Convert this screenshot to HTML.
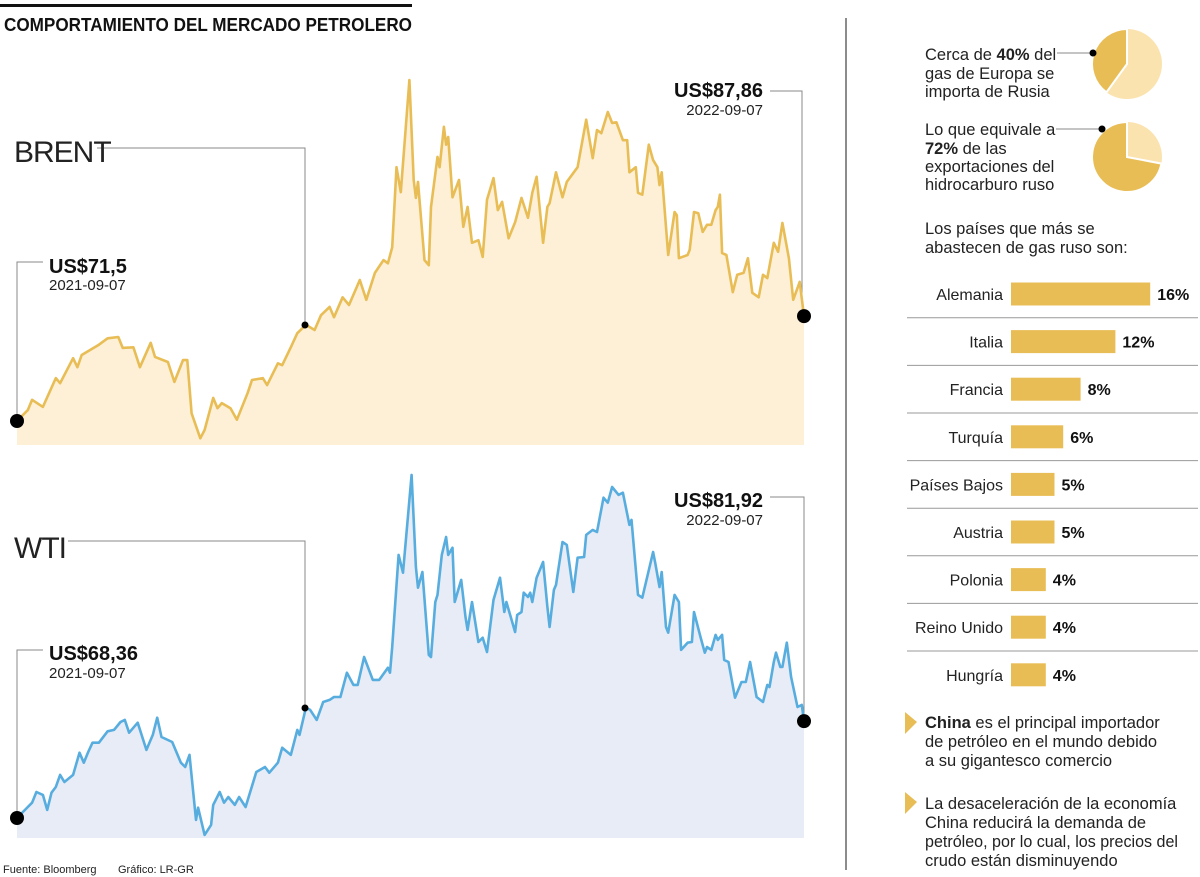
<!DOCTYPE html>
<html><head><meta charset="utf-8"><style>
html,body{margin:0;padding:0;background:#fff;}
svg{display:block;font-family:"Liberation Sans",sans-serif;}
</style></head><body>
<svg id="root" width="1200" height="877" viewBox="0 0 1200 877" xmlns="http://www.w3.org/2000/svg">
<rect x="0" y="4" width="412" height="3" fill="#111"/>
<text x="4" y="31" font-size="18" font-weight="bold" textLength="408" lengthAdjust="spacingAndGlyphs" fill="#111">COMPORTAMIENTO DEL MERCADO PETROLERO</text>
<path d="M97 148 H305 V325" fill="none" stroke="#888" stroke-width="1"/>
<path d="M68 541 H305 V708" fill="none" stroke="#888" stroke-width="1"/>
<path d="M17 414 V262 H43" fill="none" stroke="#888"/>
<path d="M770 91 H802 V309" fill="none" stroke="#888"/>
<path d="M17 811 V650 H43" fill="none" stroke="#888"/>
<path d="M770 497 H804 V714" fill="none" stroke="#888"/>
<g id="brent"></g>
<g id="wti"></g>
<text x="14" y="162" font-size="30" fill="#222" style="letter-spacing:-1px">BRENT</text>
<circle cx="305" cy="325" r="3.5" fill="#000"/>
<text x="14" y="558" font-size="30" fill="#222" style="letter-spacing:-1px">WTI</text>
<circle cx="305" cy="708" r="3.5" fill="#000"/>
<text x="49" y="273" font-size="20" font-weight="bold" fill="#111">US$71,5</text>
<text x="49" y="290" font-size="15" fill="#222">2021-09-07</text>
<text x="763" y="97" font-size="20" font-weight="bold" fill="#111" text-anchor="end">US$87,86</text>
<text x="763" y="115" font-size="15" fill="#222" text-anchor="end">2022-09-07</text>
<text x="49" y="660" font-size="20" font-weight="bold" fill="#111">US$68,36</text>
<text x="49" y="678" font-size="15" fill="#222">2021-09-07</text>
<text x="763" y="507" font-size="20" font-weight="bold" fill="#111" text-anchor="end">US$81,92</text>
<text x="763" y="525" font-size="15" fill="#222" text-anchor="end">2022-09-07</text>
<text x="3" y="873" font-size="11" fill="#222">Fuente: Bloomberg</text>
<text x="118" y="873" font-size="11" fill="#222">Gráfico: LR-GR</text>
<line x1="846" y1="18" x2="846" y2="870" stroke="#666" stroke-width="1.5"/>
<g id="pies"></g>
<g font-size="16.5" fill="#222">
<text x="925" y="60">Cerca de <tspan font-weight="bold">40%</tspan> del</text>
<text x="925" y="79">gas de Europa se</text>
<text x="925" y="97">importa de Rusia</text>
</g>
<line x1="1057" y1="53" x2="1093" y2="53" stroke="#888"/>
<circle cx="1093" cy="53" r="3.5" fill="#000"/>
<g font-size="16.5" fill="#222">
<text x="925" y="135">Lo que equivale a</text>
<text x="925" y="154"><tspan font-weight="bold">72%</tspan> de las</text>
<text x="925" y="172">exportaciones del</text>
<text x="925" y="190">hidrocarburo ruso</text>
</g>
<line x1="1056" y1="129" x2="1102" y2="129" stroke="#888"/>
<circle cx="1102" cy="129" r="3.5" fill="#000"/>
<text x="925" y="234" font-size="16.5" fill="#222">Los países que más se</text>
<text x="925" y="253" font-size="16.5" fill="#222">abastecen de gas ruso son:</text>
<g id="bars"></g>
<polygon points="905,712 917,722 905,734" fill="#e8bd55"/>
<g font-size="16.5" fill="#222">
<text x="925" y="728"><tspan font-weight="bold">China</tspan> es el principal importador</text>
<text x="925" y="747">de petróleo en el mundo debido</text>
<text x="925" y="766">a su gigantesco comercio</text>
</g>
<polygon points="905,792 917,802 905,814" fill="#e8bd55"/>
<g font-size="16.5" fill="#222">
<text x="925" y="809">La desaceleración de la economía</text>
<text x="925" y="828">China reducirá la demanda de</text>
<text x="925" y="847" textLength="253" lengthAdjust="spacingAndGlyphs">petróleo, por lo cual, los precios del</text>
<text x="925" y="866">crudo están disminuyendo</text>
</g>
</svg>
<script>
const NS = "http://www.w3.org/2000/svg";
// Brent: day offsets since 2021-09-07 and price (US$)
const brentDays = [0,5,7,12,18,20,26,28,30,38,42,47,49,54,57,62,64,70,73,77,79,81,85,87,91,93,95,99,102,107,109,114,116,121,123,127,130,134,138,141,145,147,151,154,159,162,166,170,172,174,176,178,182,184,185,186,189,191,192,195,196,198,199,200,202,205,207,209,211,214,216,218,221,223,225,228,231,234,237,239,241,244,246,247,250,253,255,260,264,267,269,271,274,276,278,281,283,284,287,288,290,293,295,297,298,299,302,305,306,307,311,312,314,316,318,320,322,324,325,326,327,329,332,334,337,339,341,344,346,348,351,353,355,358,360,363,365];
const brentPrices = [71.5,73.2,74.8,73.7,78.2,77.4,81.3,79.9,81.8,83.4,84.4,84.6,82.9,83.0,79.9,83.7,81.5,80.7,77.6,81.0,81.0,72.7,68.8,70.1,75.1,73.5,74.3,73.5,71.7,75.9,77.9,78.2,77.1,80.5,80.2,83.0,85.2,86.5,85.7,88.0,89.3,87.7,90.8,89.6,93.5,90.4,94.6,96.6,96.1,98.6,111.1,107.2,124.7,109.1,106.3,108.8,96.6,95.8,104.9,112.7,111.1,117.4,114.6,115.8,106.4,109.1,101.8,104.9,99.3,99.7,97.1,106.0,109.4,104.4,105.7,100.0,102.5,106.3,103.2,107.1,109.6,99.3,104.9,105.5,110.3,106.4,108.8,111.1,118.5,112.5,116.9,116.4,119.7,118.0,118.1,115.3,115.3,110.3,111.1,107.1,106.8,114.6,112.2,111.1,108.3,110.3,97.4,104.1,103.6,96.9,97.4,98.2,104.1,103.9,101.0,102.1,102.1,104.4,104.9,106.8,97.7,97.4,91.6,94.3,94.6,96.9,91.5,90.8,94.3,93.8,99.3,97.9,102.4,96.9,90.4,93.2,87.86];
// WTI
const wtiDays = [0,5,7,9,12,14,16,18,20,22,26,29,31,33,35,38,42,45,48,50,52,56,60,63,65,67,72,76,78,80,83,84,87,90,91,94,96,98,101,103,106,111,115,117,121,123,127,130,131,134,136,139,142,145,147,150,153,156,158,161,165,168,172,173,174,177,179,183,185,186,188,191,192,194,195,197,199,200,202,203,206,208,209,211,214,216,218,221,224,226,227,231,232,234,235,237,238,239,241,244,246,247,249,250,253,255,258,260,263,264,267,269,272,274,276,279,281,284,285,288,290,295,296,298,299,301,302,305,307,308,311,313,314,317,319,320,322,324,325,327,328,330,333,336,338,340,343,346,348,349,351,352,354,355,357,359,362,364,365];
const wtiPrices = [68.36,69.9,70.5,72.0,71.6,69.5,71.9,72.7,74.4,73.4,74.4,77.5,76.1,77.6,78.9,78.9,80.5,80.7,81.8,82.1,80.3,81.7,77.9,80.0,82.4,79.7,79.0,76.1,75.5,77.2,68.1,69.8,66.0,67.4,70.2,72.0,70.5,71.3,70.2,71.3,69.9,74.8,75.5,74.7,76.1,78.2,77.2,80.7,80.0,83.8,83.5,82.1,84.6,84.9,85.3,85.3,88.7,87.0,87.0,90.9,87.7,87.7,89.4,88.7,92.3,105.2,102.7,116.4,103.5,100.6,102.8,91.2,90.9,98.6,99.6,105.2,107.7,105.2,106.2,98.6,101.7,96.5,94.7,98.6,93.0,93.6,91.6,98.9,102.0,97.2,98.6,94.4,96.8,97.2,99.9,99.3,99.9,98.6,102.0,104.2,97.9,95.1,100.3,101.0,107.0,106.6,100.0,104.8,104.9,108.0,108.7,108.4,113.2,112.5,114.7,113.6,113.9,109.4,110.1,99.6,99.2,105.6,104.1,100.7,102.8,95.1,94.3,99.6,98.6,91.9,92.9,93.0,97.2,93.7,91.5,92.3,91.9,94.0,93.3,94.0,90.5,90.2,85.2,87.4,87.4,90.2,85.3,84.6,87.0,86.7,90.2,91.5,89.5,89.5,92.9,88.1,83.9,84.2,81.92];
// Pies
const pieShares = [40, 72];
// Bars
const countries = ["Alemania","Italia","Francia","Turquía","Países Bajos","Austria","Polonia","Reino Unido","Hungría"];
const shares = [16,12,8,6,5,5,4,4,4];

function el(tag, attrs, parent){const e=document.createElementNS(NS,tag);for(const k in attrs)e.setAttribute(k,attrs[k]);parent.appendChild(e);return e;}

const xDay = d => 17 + d*787/365;
function drawSeries(g, days, prices, refV, refY, perPx, bottom, fill, stroke, key){
  const y = v => refY - (v-refV)/perPx;
  let pts = days.map((d,i)=>[xDay(d), y(prices[i])]);
  let line = pts.map((p,i)=>(i?'L':'M')+p[0].toFixed(1)+' '+p[1].toFixed(1)).join(' ');
  const area = el('path',{d: line+` L${pts[pts.length-1][0].toFixed(1)} ${bottom} L${pts[0][0].toFixed(1)} ${bottom} Z`, fill: fill}, g);
  
  
  const ln = el('path',{d: line, fill:'none', stroke: stroke, 'stroke-width': 2.6, 'stroke-linejoin':'round'}, g);
  
  
  const s = el('circle',{cx: pts[0][0], cy: pts[0][1], r: 7, fill:'#000'}, g);
  
  
  const e = el('circle',{cx: pts[pts.length-1][0], cy: pts[pts.length-1][1], r: 7, fill:'#000'}, g);
  
  
}
drawSeries(document.getElementById('brent'), brentDays, brentPrices, 71.5, 421, 0.156, 445, '#fdf0d6', '#e8bd55', 'brent');
drawSeries(document.getElementById('wti'), wtiDays, wtiPrices, 68.36, 818, 0.14, 838, '#e7ecf7', '#58addf', 'wti');

// pies
const pg = document.getElementById('pies');
const pieCenters = [[1127,64],[1127,157]];
pieShares.forEach((s,i)=>{
  const [cx,cy]=pieCenters[i], r=35;
  const ang = s/100*2*Math.PI;
  const ex = cx - r*Math.sin(ang), ey = cy - r*Math.cos(ang);
  const large = s>50?1:0;
  const bg = el('circle',{cx,cy,r,fill:'#fbe3b0'},pg);
  
  
  const sl = el('path',{d:`M${cx} ${cy} L${cx} ${cy-r} A${r} ${r} 0 ${large} 0 ${ex.toFixed(1)} ${ey.toFixed(1)} Z`, fill:'#e8bd55', stroke:'#fff','stroke-width':2},pg);
  
  
});

// bars
const bg = document.getElementById('bars');
const rowY0 = 294, rowStep = 47.6, barX = 1011, pxPer = 8.7;
countries.forEach((c,i)=>{
  const cy = rowY0 + i*rowStep;
  const t = el('text',{x:1003,y:cy+6,'font-size':16,'text-anchor':'end',fill:'#222'},bg);
  t.textContent = c;
  
  
  const w = shares[i]*pxPer;
  const r = el('rect',{x:barX,y:cy-11.5,width:w,height:23,fill:'#e8bd55'},bg);
  
  
  const v = el('text',{x:barX+w+7,y:cy+6,'font-size':16,'font-weight':'bold',fill:'#111'},bg);
  v.textContent = shares[i]+'%';
  
  
  if(i<countries.length-1){
    const l = el('line',{x1:907,x2:1198,y1:cy+23.8,y2:cy+23.8,stroke:'#999','stroke-width':1},bg);
    
    
  }
});
</script>
</body></html>
